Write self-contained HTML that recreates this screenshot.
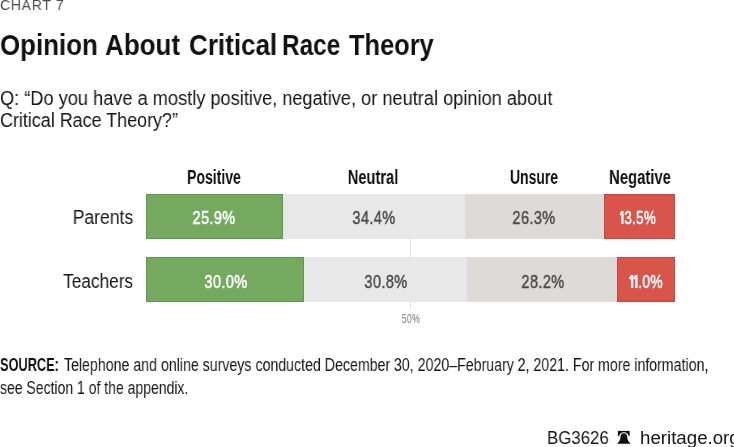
<!DOCTYPE html>
<html><head><meta charset="utf-8">
<style>
html,body{margin:0;padding:0;background:#fff;}
body{width:734px;height:447px;position:relative;overflow:hidden;font-family:"Liberation Sans",sans-serif;}
.t{position:absolute;white-space:nowrap;line-height:1;will-change:transform;}
.bar{position:absolute;box-sizing:border-box;}
.g{background:#74a95f;border:1px solid #5a9c42;}
.n{background:#e8e8e8;}
.u{background:#dcdbd7;}
.r{background:#d9554c;border:1px solid #d0413a;}
</style></head><body>
<div id="tw0" class="t" style="left:0.0px;top:29.80px;font-size:30px;color:#111;font-weight:bold;letter-spacing:0px;transform:scaleX(0.863);transform-origin:0 0;">Opinion</div>
<div id="tw1" class="t" style="left:105.0px;top:29.80px;font-size:30px;color:#111;font-weight:bold;letter-spacing:0px;transform:scaleX(0.866);transform-origin:0 0;">About</div>
<div id="tw2" class="t" style="left:188.8px;top:29.80px;font-size:30px;color:#111;font-weight:bold;letter-spacing:0px;transform:scaleX(0.867);transform-origin:0 0;">Critical</div>
<div id="tw3" class="t" style="left:282.0px;top:29.80px;font-size:30px;color:#111;font-weight:bold;letter-spacing:0px;transform:scaleX(0.812);transform-origin:0 0;">Race</div>
<div id="tw4" class="t" style="left:348.6px;top:29.80px;font-size:30px;color:#111;font-weight:bold;letter-spacing:0px;transform:scaleX(0.847);transform-origin:0 0;">Theory</div>
<div id="chart" class="t" style="left:0.2px;top:-3.10px;font-size:15px;color:#4a4a4a;font-weight:normal;letter-spacing:0.7px;transform:scaleX(0.94);transform-origin:0 0;">CHART 7</div>
<div id="q1" class="t" style="left:0.3px;top:87.97px;font-size:20px;color:#151515;font-weight:normal;letter-spacing:0px;transform:scaleX(0.91);transform-origin:0 0;">Q: “Do you have a mostly positive, negative, or neutral opinion about</div>
<div id="q2" class="t" style="left:0.3px;top:110.27px;font-size:20px;color:#151515;font-weight:normal;letter-spacing:0px;transform:scaleX(0.896);transform-origin:0 0;">Critical Race Theory?”</div>
<div id="hpos" class="t" style="left:-86.0px;width:600px;text-align:center;top:168.09px;font-size:19.5px;color:#111;font-weight:bold;letter-spacing:0px;transform:scaleX(0.717);transform-origin:50% 0;">Positive</div>
<div id="hneu" class="t" style="left:73.25px;width:600px;text-align:center;top:168.09px;font-size:19.5px;color:#111;font-weight:bold;letter-spacing:0px;transform:scaleX(0.753);transform-origin:50% 0;">Neutral</div>
<div id="huns" class="t" style="left:234.0px;width:600px;text-align:center;top:168.09px;font-size:19.5px;color:#111;font-weight:bold;letter-spacing:0px;transform:scaleX(0.715);transform-origin:50% 0;">Unsure</div>
<div id="hneg" class="t" style="left:339.5px;width:600px;text-align:center;top:168.09px;font-size:19.5px;color:#111;font-weight:bold;letter-spacing:0px;transform:scaleX(0.76);transform-origin:50% 0;">Negative</div>
<div id="lpar" class="t" style="right:600.8px;top:208.29px;font-size:19.5px;color:#151515;font-weight:normal;letter-spacing:0px;transform:scaleX(0.9);transform-origin:100% 0;">Parents</div>
<div id="ltea" class="t" style="right:600.8px;top:272.49px;font-size:19.5px;color:#151515;font-weight:normal;letter-spacing:0px;transform:scaleX(0.885);transform-origin:100% 0;">Teachers</div>
<div class="bar" style="left:410px;top:239px;width:1px;height:71px;background:#e2e2e2;"></div>
<div class="bar g" style="left:146px;top:194px;width:137px;height:45px;"></div>
<div class="bar n" style="left:283px;top:194px;width:182px;height:45px;"></div>
<div class="bar u" style="left:465px;top:194px;width:139px;height:45px;"></div>
<div class="bar r" style="left:604px;top:194px;width:71px;height:45px;"></div>
<div class="bar g" style="left:146px;top:257px;width:158px;height:45px;"></div>
<div class="bar n" style="left:304px;top:257px;width:163px;height:45px;"></div>
<div class="bar u" style="left:467px;top:257px;width:150px;height:45px;"></div>
<div class="bar r" style="left:617px;top:257px;width:58px;height:45px;"></div>
<div id="v1" class="t" style="left:-85.80000000000001px;width:600px;text-align:center;top:207.81px;font-size:19px;color:#fff;font-weight:normal;letter-spacing:0.5px;transform:scaleX(0.762);transform-origin:50% 0;-webkit-text-stroke:0.6px currentColor;">25.9%</div>
<div id="v2" class="t" style="left:74.19999999999999px;width:600px;text-align:center;top:207.81px;font-size:19px;color:#4d4d4d;font-weight:normal;letter-spacing:0.5px;transform:scaleX(0.766);transform-origin:50% 0;-webkit-text-stroke:0.5px currentColor;">34.4%</div>
<div id="v3" class="t" style="left:234.0px;width:600px;text-align:center;top:207.81px;font-size:19px;color:#4d4d4d;font-weight:normal;letter-spacing:0.5px;transform:scaleX(0.766);transform-origin:50% 0;-webkit-text-stroke:0.5px currentColor;">26.3%</div>
<div id="v4" class="t" style="left:338.25px;width:600px;text-align:center;top:207.81px;font-size:19px;color:#fff;font-weight:normal;letter-spacing:0.5px;transform:scaleX(0.7);transform-origin:50% 0;-webkit-text-stroke:0.6px currentColor;"><svg width="6.3" height="13.4" viewBox="0 0 6.3 13.4" style="vertical-align:baseline"><path d="M2.1 0H5.4V13.4H2.3V3.6L0 4.8V2.2Z" fill="currentColor"/></svg>3.5%</div>
<div id="v5" class="t" style="left:-74.19999999999999px;width:600px;text-align:center;top:271.81px;font-size:19px;color:#fff;font-weight:normal;letter-spacing:0.5px;transform:scaleX(0.766);transform-origin:50% 0;-webkit-text-stroke:0.6px currentColor;">30.0%</div>
<div id="v6" class="t" style="left:86.10000000000002px;width:600px;text-align:center;top:271.81px;font-size:19px;color:#4d4d4d;font-weight:normal;letter-spacing:0.5px;transform:scaleX(0.766);transform-origin:50% 0;-webkit-text-stroke:0.5px currentColor;">30.8%</div>
<div id="v7" class="t" style="left:242.70000000000005px;width:600px;text-align:center;top:271.81px;font-size:19px;color:#4d4d4d;font-weight:normal;letter-spacing:0.5px;transform:scaleX(0.766);transform-origin:50% 0;-webkit-text-stroke:0.5px currentColor;">28.2%</div>
<div id="v8" class="t" style="left:345.70000000000005px;width:600px;text-align:center;top:271.81px;font-size:19px;color:#fff;font-weight:normal;letter-spacing:0.5px;transform:scaleX(0.725);transform-origin:50% 0;-webkit-text-stroke:0.6px currentColor;"><svg width="6.3" height="13.4" viewBox="0 0 6.3 13.4" style="vertical-align:baseline"><path d="M2.1 0H5.4V13.4H2.3V3.6L0 4.8V2.2Z" fill="currentColor"/></svg><svg width="6.3" height="13.4" viewBox="0 0 6.3 13.4" style="vertical-align:baseline"><path d="M2.1 0H5.4V13.4H2.3V3.6L0 4.8V2.2Z" fill="currentColor"/></svg>.0%</div>
<div id="p50" class="t" style="left:110.60000000000002px;width:600px;text-align:center;top:311.89px;font-size:13px;color:#8a8a8a;font-weight:normal;letter-spacing:0.7px;transform:scaleX(0.66);transform-origin:50% 0;-webkit-text-stroke:0.15px currentColor;">50%</div>
<div id="s1a" class="t" style="left:0px;top:356.68px;font-size:17.5px;color:#111;font-weight:bold;letter-spacing:0px;transform:scaleX(0.73);transform-origin:0 0;">SOURCE:</div>
<div id="s1b" class="t" style="left:64.2px;top:356.68px;font-size:17.5px;color:#151515;font-weight:normal;letter-spacing:0px;transform:scaleX(0.8097);transform-origin:0 0;">Telephone and online surveys conducted December 30, 2020–February 2, 2021. For more information,</div>
<div id="s2" class="t" style="left:0px;top:380.18px;font-size:17.5px;color:#151515;font-weight:normal;letter-spacing:0px;transform:scaleX(0.8);transform-origin:0 0;">see Section 1 of the appendix.</div>
<div id="bg" class="t" style="left:546.5px;top:428.67px;font-size:18.7px;color:#151515;font-weight:normal;letter-spacing:0px;transform:scaleX(0.9);transform-origin:0 0;">BG3626</div>
<div id="bell" class="t" style="left:617px;top:430px;width:14px;height:14px;">
<svg width="14" height="14" viewBox="0 0 14 14"><path d="M0.9 0.9H12.6V6.1H0.9Z" fill="#111"/><path d="M2.0 6.3C2.3 3.9 4.3 2.2 6.85 2.2C9.4 2.2 11.4 3.9 11.7 6.3Z" fill="#fff"/><path d="M6.85 3.3C8.9 3.3 10 4.5 10.1 6.1C10.3 9 10.9 11.8 13.3 13.2V13.7H0.4V13.2C2.8 11.8 3.4 9 3.6 6.1C3.7 4.5 4.8 3.3 6.85 3.3Z" fill="#111"/></svg></div>
<div id="her" class="t" style="left:639.5px;top:428.67px;font-size:18.7px;color:#151515;font-weight:normal;letter-spacing:0px;transform:scaleX(1.0);transform-origin:0 0;">heritage.org</div>
</body></html>
